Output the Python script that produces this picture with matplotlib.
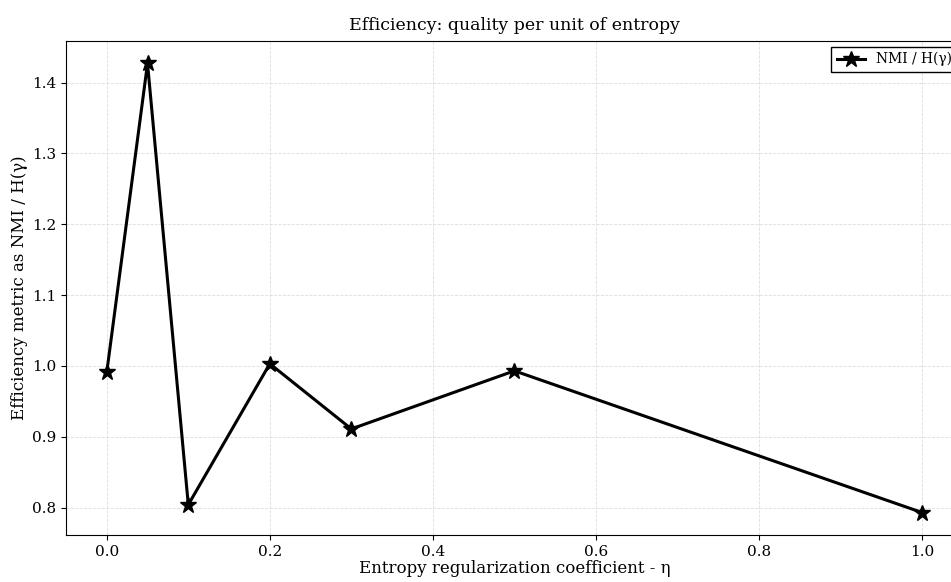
import matplotlib
matplotlib.use("Agg")
import matplotlib.pyplot as plt

plt.rcParams['font.family'] = 'DejaVu Serif'

eta = [0.0, 0.05, 0.1, 0.2, 0.3, 0.5, 1.0]
efficiency = [0.991, 1.427, 0.804, 1.003, 0.911, 0.993, 0.793]

fig = plt.figure(figsize=(9.51, 5.82), dpi=100)
ax = fig.add_axes([0.0694, 0.0808, 0.943, 0.8488])

ax.plot(eta, efficiency, color='black', linewidth=2.2, marker='*', markersize=12,
        label='NMI / H(γ)')

ax.set_title('Efficiency: quality per unit of entropy', fontsize=12.5, pad=8)
ax.set_xlabel('Entropy regularization coefficient - η', fontsize=12, labelpad=1)
ax.set_ylabel('Efficiency metric as NMI / H(γ)', fontsize=12, labelpad=3)
ax.tick_params(labelsize=11)
ax.grid(True, linestyle='--', linewidth=0.6, color='#dddddd')
ax.legend(loc='upper right', fontsize=10, fancybox=False, edgecolor='black',
          framealpha=1, borderaxespad=0.4)

fig.savefig('out.png', dpi=100)
